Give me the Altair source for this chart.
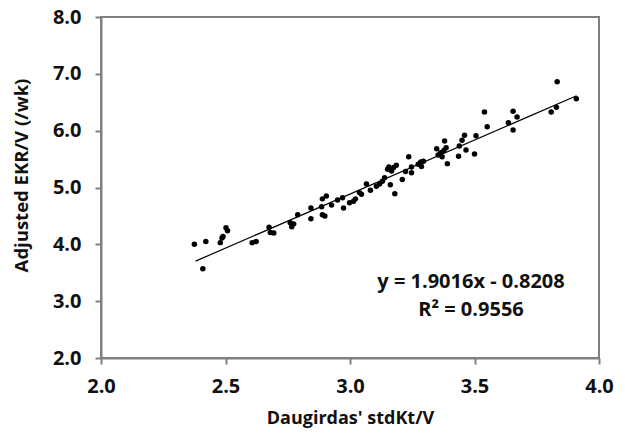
import altair as alt
import pandas as pd

stdkt = [2.375, 2.409, 2.421, 2.479, 2.486, 2.490, 2.502, 2.508, 2.607, 2.623,
         2.675, 2.680, 2.694, 2.760, 2.766, 2.774, 2.790, 2.843, 2.843, 2.886,
         2.889, 2.889, 2.899, 2.905, 2.926, 2.950, 2.970, 2.974, 2.998, 3.014,
         3.022, 3.038, 3.046, 3.066, 3.082, 3.106, 3.119, 3.130, 3.139, 3.151,
         3.156, 3.162, 3.167, 3.175, 3.180, 3.186, 3.210, 3.223, 3.236, 3.247,
         3.247, 3.274, 3.284, 3.287, 3.295, 3.348, 3.354, 3.364, 3.370, 3.377,
         3.380, 3.386, 3.391, 3.436, 3.439, 3.450, 3.460, 3.466, 3.500, 3.506,
         3.540, 3.551, 3.636, 3.655, 3.655, 3.671, 3.808, 3.829, 3.832, 3.909]
ekr = [4.00, 3.57, 4.05, 4.03, 4.11, 4.14, 4.29, 4.24, 4.03, 4.05,
       4.30, 4.21, 4.20, 4.38, 4.31, 4.36, 4.52, 4.64, 4.45, 4.66,
       4.80, 4.52, 4.50, 4.85, 4.69, 4.78, 4.82, 4.64, 4.73, 4.76,
       4.80, 4.91, 4.88, 5.06, 4.95, 5.02, 5.06, 5.11, 5.17, 5.32,
       5.36, 5.05, 5.29, 5.35, 4.89, 5.39, 5.14, 5.28, 5.54, 5.26,
       5.36, 5.41, 5.45, 5.37, 5.46, 5.68, 5.57, 5.61, 5.54, 5.65,
       5.82, 5.70, 5.42, 5.55, 5.73, 5.83, 5.92, 5.66, 5.59, 5.91,
       6.33, 6.07, 6.14, 6.34, 6.01, 6.24, 6.33, 6.41, 6.86, 6.56]

slope = 1.9016
intercept = -0.8208
fit_x = [2.38, 3.91]
fit_y = [slope * v + intercept for v in fit_x]

ann_text = ["y = 1.9016x - 0.8208", "R² = 0.9556"]
ann_x = [3.486, 3.486]
ann_y = [3.23, 2.74]

x_domain = [2.0, 4.0]
y_domain = [2.0, 8.0]
x_ticks = [2.0, 2.5, 3.0, 3.5, 4.0]
y_ticks = [2.0, 3.0, 4.0, 5.0, 6.0, 7.0, 8.0]

FONT = "Open Sans"
GRAY = "#808080"
W, H = 498, 341

pts = pd.DataFrame({"x": stdkt, "y": ekr})
fit = pd.DataFrame({"x": fit_x, "y": fit_y})
ann = pd.DataFrame({"x": ann_x, "y": ann_y, "t": ann_text})
vframe = pd.DataFrame({"x": x_domain})
hframe = pd.DataFrame({"y": y_domain})

xs = alt.Scale(domain=x_domain, nice=False, zero=False)
ys = alt.Scale(domain=y_domain, nice=False, zero=False)

xaxis = alt.Axis(values=x_ticks, format=".1f", grid=False,
                 title="Daugirdas' stdKt/V", labelFont=FONT, labelFontSize=20,
                 labelFontWeight="bold", labelColor="#111", labelPadding=12,
                 labelFlush=False,
                 tickSize=6, tickColor=GRAY, tickWidth=2,
                 domainColor=GRAY, domainWidth=2,
                 titleFont=FONT, titleFontSize=18, titleFontWeight="bold",
                 titleColor="#111", titlePadding=13)
yaxis = alt.Axis(values=y_ticks, format=".1f", grid=False,
                 title="Adjusted EKR/V (/wk)", labelFont=FONT, labelFontSize=20,
                 labelFontWeight="bold", labelColor="#111", labelPadding=14,
                 labelFlush=False,
                 tickSize=6, tickColor=GRAY, tickWidth=2,
                 domainColor=GRAY, domainWidth=2,
                 titleFont=FONT, titleFontSize=18.5, titleFontWeight="bold",
                 titleColor="#111", titleX=-74, titleY=158, titleBaseline="alphabetic",
                 titleAlign="center", titleAngle=270)

# plot frame drawn as filled thin ticks (left/right and bottom/top edges)
vlines = alt.Chart(vframe).mark_tick(color=GRAY, thickness=2, size=H + 2,
                                      orient="vertical", opacity=1).encode(
    x=alt.X("x:Q", scale=xs, axis=xaxis)
)
hlines = alt.Chart(hframe).mark_tick(color=GRAY, thickness=2, size=W + 2,
                                      orient="horizontal", opacity=1).encode(
    y=alt.Y("y:Q", scale=ys, axis=yaxis)
)
points = alt.Chart(pts).mark_circle(size=30, color="black", opacity=1).encode(
    x=alt.X("x:Q", scale=xs),
    y=alt.Y("y:Q", scale=ys),
)
line = alt.Chart(fit).mark_line(color="black", strokeWidth=1.2).encode(
    x=alt.X("x:Q", scale=xs), y=alt.Y("y:Q", scale=ys)
)
text = alt.Chart(ann).mark_text(font=FONT, fontSize=20, fontWeight="bold",
                                color="#111", align="center", baseline="alphabetic").encode(
    x=alt.X("x:Q", scale=xs), y=alt.Y("y:Q", scale=ys), text="t:N"
)

chart = alt.layer(vlines, hlines, line, points, text).properties(
    width=W, height=H,
    background="white",
    autosize=alt.AutoSizeParams(type="none"),
    padding={"left": 93, "top": 9, "right": 18, "bottom": 75},
).configure_view(stroke=GRAY, strokeWidth=2)

chart.save("out.html", embed_options={"renderer": "svg", "actions": False})
